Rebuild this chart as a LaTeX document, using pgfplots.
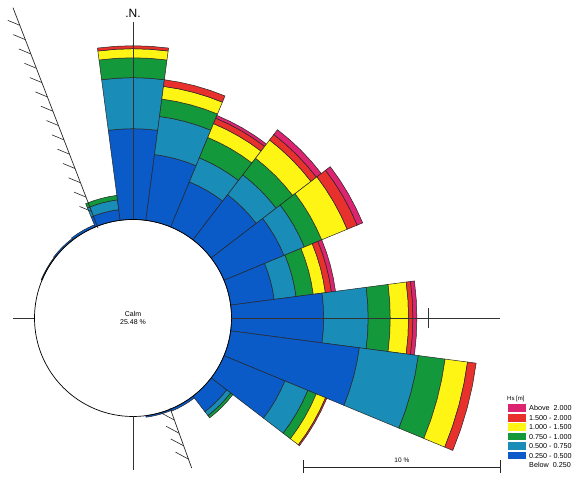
\documentclass[border=0pt]{standalone}
\usepackage{fontspec}
\setmainfont{Liberation Sans}
\usepackage{pgfplots}
\usepackage{pgfplotstable}
\usetikzlibrary{calc}
\pgfplotsset{compat=1.18}
\definecolor{hs1}{HTML}{0A5AC8}
\definecolor{hs2}{HTML}{1A8CB8}
\definecolor{hs3}{HTML}{14983C}
\definecolor{hs4}{HTML}{FFF514}
\definecolor{hs5}{HTML}{E8302C}
\definecolor{hs6}{HTML}{DC2470}
% direction (deg, coming from), percentage of time in each Hs class
% h1: 0.25-0.5, h2: 0.5-0.75, h3: 0.75-1.0, h4: 1.0-1.5, h5: 1.5-2.0, h6: >2.0
\pgfplotstableread{
dir h1 h2 h3 h4 h5 h6
300 0.05 0 0 0 0 0
315 0.08 0 0 0 0 0
330 0.12 0 0 0 0 0
345 0.55 0.50 0.23 0 0 0
0 4.61 2.59 1.01 0.46 0.15 0
15 3.37 1.95 0.89 0.65 0.34 0
30 2.48 1.32 1.12 0.76 0.30 0.15
45 2.89 1.27 1.06 1.17 0.35 0.31
60 3.30 1.12 0.95 1.40 0.55 0.30
75 2.23 1.12 0.88 0.62 0.31 0.21
90 4.68 2.26 1.12 0.93 0.22 0.20
105 6.59 3.02 1.37 1.15 0.44 0
120 3.35 1.26 0.46 0.51 0.07 0
135 1.00 0.25 0.14 0 0 0
150 0.12 0 0 0 0 0
165 0.08 0 0 0 0 0
}\rose
% one stacked segment of the current direction
\newcommand\bandk[1]{%
  \pgfplotstablegetelem{\rowi}{h#1}\of\rose
  \edef\val{\pgfplotsretval}%
  \pgfmathsetmacro\rhi{\rlo+\val}%
  \ifdim\val pt>0pt
    \edef\doband{\noexpand\addplot[band,fill=hs#1,data cs=polar] coordinates {(\ta,\rhi) (\tb,\rhi) (\th,\rhi) (\tc,\rhi) (\td,\rhi) (\td,\rlo) (\tc,\rlo) (\th,\rlo) (\tb,\rlo) (\ta,\rlo)} -- cycle;}%
    \doband
  \fi
  \let\rlo\rhi}
\newcommand\drawdir[1]{%
  \edef\rowi{#1}%
  \pgfplotstablegetelem{\rowi}{dir}\of\rose
  \pgfmathsetmacro\th{90-\pgfplotsretval}%
  \pgfmathsetmacro\ta{\th-7.5}\pgfmathsetmacro\tb{\th-3.75}%
  \pgfmathsetmacro\tc{\th+3.75}\pgfmathsetmacro\td{\th+7.5}%
  \def\rlo{5}%
  \bandk{1}\bandk{2}\bandk{3}\bandk{4}\bandk{5}\bandk{6}}
\begin{document}
\begin{tikzpicture}[x=1pt,y=1pt]
\path[use as bounding box] (0,0) rectangle (580,478);
\begin{axis}[at={(0,0)},anchor=south west,
  x=19.7pt,y=19.7pt,
  xmin=-6.751,xmax=22.690,ymin=-8.122,ymax=16.142,
  hide axis,clip=false,
  band/.style={draw=black!85,line width=0.5pt}]
% calm circle
\fill[white] (axis cs:0,0) circle[radius=5];
\pgfplotstablegetrowsof{\rose}
\pgfmathtruncatemacro\lastrow{\pgfplotsretval-1}
\pgfplotsforeachungrouped \i in {0,...,\lastrow}{\drawdir{\i}}
% calm circle outline
\draw[black,line width=0.7pt] (axis cs:0,0) circle[radius=5];
% cross lines
\draw[black!80,line width=0.6pt] (axis cs:-6.09,0) -- (axis cs:-5,0);
\draw[black!80,line width=0.6pt] (axis cs:5,0) -- (axis cs:18.63,0);
\draw[black!80,line width=0.9pt] (axis cs:15,-0.5) -- (axis cs:15,0.5);
\draw[black!80,line width=0.6pt] (axis cs:0,5) -- (axis cs:0,15.0);
\draw[black!80,line width=0.6pt] (axis cs:0,-5) -- (axis cs:0,-7.72);
\node[font=\fontsize{12}{13}\selectfont] at (axis cs:0,15.45) {.N.};
% calm text
\node[align=center,font=\fontsize{7}{8.5}\selectfont] at (axis cs:0,0) {Calm\\25.48 \%};
% coastline anchors
\coordinate (cA) at (axis cs:-6.09,15.75);
\coordinate (cB) at (axis cs:-1.78,4.57);
\coordinate (cC) at (axis cs:1.88,-4.57);
\coordinate (cD) at (axis cs:2.98,-7.62);
% scale bar
\draw[black!85,line width=0.6pt] (axis cs:8.65,-7.56) -- (axis cs:18.65,-7.56);
\draw[black!85,line width=0.6pt] (axis cs:8.65,-7.2) -- (axis cs:8.65,-7.86);
\draw[black!85,line width=0.6pt] (axis cs:18.65,-7.2) -- (axis cs:18.65,-7.86);
\node[font=\fontsize{6.5}{7}\selectfont] at (axis cs:13.65,-7.22) {10 \%};
\end{axis}
% coastlines
\draw[black!85,line width=0.7pt] (cA) -- (cB);
\foreach \s in {0.08,0.145,0.21,0.275,0.34,0.405,0.47,0.535,0.60,0.665,0.73,0.795,0.86,0.925}{
  \draw[black!85,line width=0.6pt] ($(cA)!\s!(cB)$) -- ++(-12,5);
}
\draw[black!85,line width=0.7pt] (cC) -- (cD);
\foreach \s in {0.2,0.42,0.63,0.85}{
  \draw[black!85,line width=0.6pt] ($(cC)!\s!(cD)$) -- ++(-13,7);
}
% legend
\node[anchor=west,inner sep=0pt,font=\fontsize{6}{7}\selectfont] at (507,79.5) {Hs [m]};
\begin{scope}[font=\fontsize{7.2}{8}\selectfont]
\foreach \c/\lab [count=\n from 0] in {hs6/{Above\ \ 2.000},hs5/{1.500 - 2.000},hs4/{1.000 - 1.500},hs3/{0.750 - 1.000},hs2/{0.500 - 0.750},hs1/{0.250 - 0.500},white/{Below\ \ 0.250}}{
  \fill[\c] (508,{69.7-9.45*\n-3.8}) rectangle (526,{69.7-9.45*\n+3.8});
  \node[anchor=west,inner sep=0pt] at (529,{69.7-9.45*\n}) {\lab};
}
\end{scope}
\end{tikzpicture}
\end{document}
